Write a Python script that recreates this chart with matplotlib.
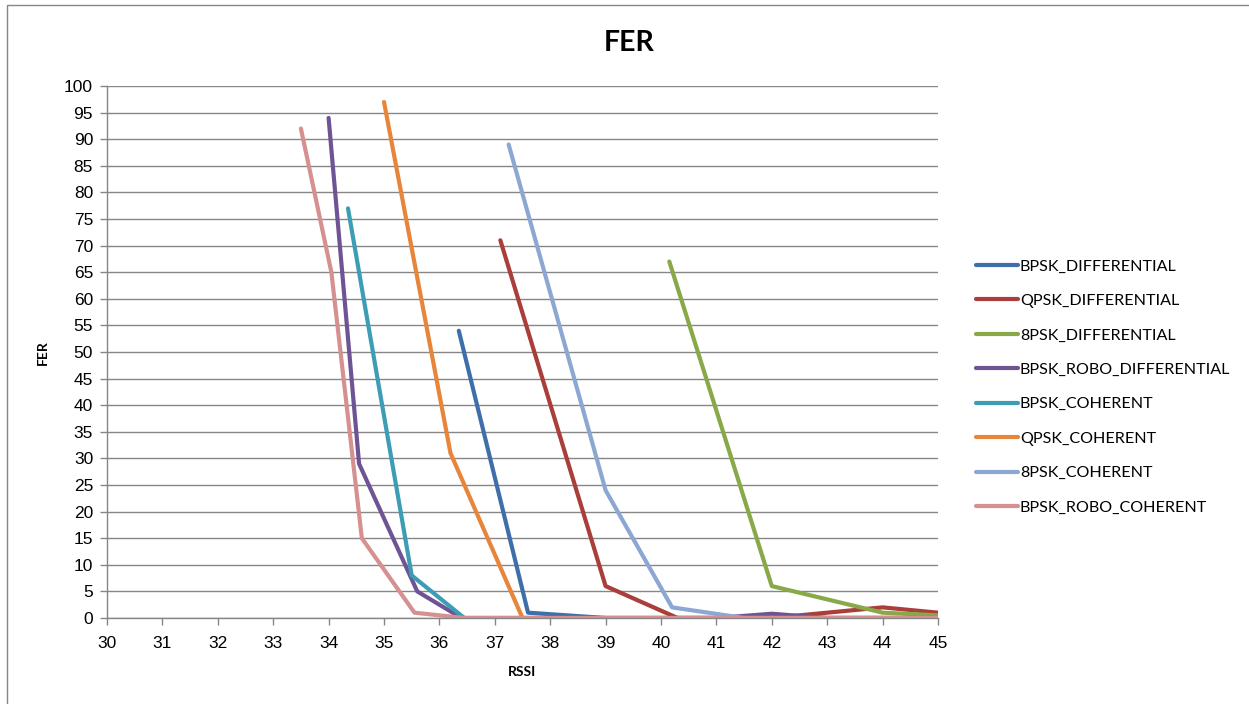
import matplotlib
matplotlib.use("Agg")
from matplotlib import pyplot as plt
from matplotlib.patches import Rectangle

# RSSI / FER values
labels = ["BPSK_DIFFERENTIAL", "QPSK_DIFFERENTIAL", "8PSK_DIFFERENTIAL",
          "BPSK_ROBO_DIFFERENTIAL", "BPSK_COHERENT", "QPSK_COHERENT",
          "8PSK_COHERENT", "BPSK_ROBO_COHERENT"]

bpsk_diff_x = [36.35, 37.6, 39.0, 45.0]
bpsk_diff_y = [54, 1, 0, 0]
qpsk_diff_x = [37.1, 39.0, 40.3, 42.0, 43.0, 44.0, 45.0]
qpsk_diff_y = [71, 6, 0, 0, 1, 2, 1]
psk8_diff_x = [40.15, 42.0, 44.0, 45.0]
psk8_diff_y = [67, 6, 1, 0.5]
robo_diff_x = [34.0, 34.55, 35.6, 36.4, 41.0, 42.0, 43.0, 45.0]
robo_diff_y = [94, 29, 5, 0, 0, 0.8, 0, 0]
bpsk_coh_x = [34.35, 35.5, 36.45, 45.0]
bpsk_coh_y = [77, 8, 0, 0]
qpsk_coh_x = [35.0, 36.2, 37.5, 45.0]
qpsk_coh_y = [97, 31, 0, 0]
psk8_coh_x = [37.25, 39.0, 40.2, 41.5, 45.0]
psk8_coh_y = [89, 24, 2, 0, 0]
robo_coh_x = [33.5, 34.05, 34.6, 35.55, 36.45, 45.0]
robo_coh_y = [92, 65, 15, 1, 0, 0]

xs = [bpsk_diff_x, qpsk_diff_x, psk8_diff_x, robo_diff_x,
      bpsk_coh_x, qpsk_coh_x, psk8_coh_x, robo_coh_x]
ys = [bpsk_diff_y, qpsk_diff_y, psk8_diff_y, robo_diff_y,
      bpsk_coh_y, qpsk_coh_y, psk8_coh_y, robo_coh_y]

colors = ["#3F6FAA", "#AA3E3A", "#89A948", "#6E5494",
          "#3C9DB5", "#E7863A", "#8CA8D2", "#D69090"]

x_ticks = list(range(30, 46))
y_ticks = list(range(0, 101, 5))

grey = "#868686"

fig = plt.figure(figsize=(12.49, 7.04), dpi=100)
fig.patches.append(Rectangle((7 / 1249, -0.05), 1.1, 0.05 + 1 - 5 / 704,
                             transform=fig.transFigure, fill=False,
                             edgecolor=grey, linewidth=1))

ax = fig.add_axes([107 / 1249, 1 - 618 / 704, (938 - 107) / 1249, (618 - 86) / 704])

for x, y, c, lab in zip(xs, ys, colors, labels):
    ax.plot(x, y, color=c, linewidth=3, label=lab,
            solid_capstyle="round", solid_joinstyle="round")

ax.set_xlim(30, 45)
ax.set_ylim(0, 100)
ax.set_xticks(x_ticks)
ax.set_yticks(y_ticks)
ax.yaxis.grid(True, color=grey, linewidth=1)
ax.set_axisbelow(True)
for s in ["top", "right"]:
    ax.spines[s].set_visible(False)
for s in ["left", "bottom"]:
    ax.spines[s].set_color(grey)
    ax.spines[s].set_linewidth(1)
ax.tick_params(axis="both", colors=grey, length=5, width=1, labelcolor="black",
               labelsize=12.5)
ax.tick_params(axis="x", pad=8)
ax.tick_params(axis="y", pad=5)
for t in ax.get_xticklabels() + ax.get_yticklabels():
    t.set_fontfamily("Liberation Sans")

fig.text(629 / 1249, 1 - 43 / 704, "FER", ha="center", va="center",
         fontsize=20.5, fontweight="bold", family="Lato")
fig.text(43 / 1249, 1 - 353 / 704, "FER", ha="center", va="center",
         rotation=90, fontsize=10, fontweight="bold", family="Lato")
fig.text(522 / 1249, 1 - 672 / 704, "RSSI", ha="center", va="center",
         fontsize=10, fontweight="bold", family="Lato")

leg = fig.legend(loc="center left", bbox_to_anchor=(961 / 1249, 1 - 387 / 704),
                 frameon=False, handlelength=2.65, handletextpad=0.1,
                 labelspacing=1.25, prop={"family": "Lato", "size": 11.6})

fig.savefig("out.png", dpi=100)
